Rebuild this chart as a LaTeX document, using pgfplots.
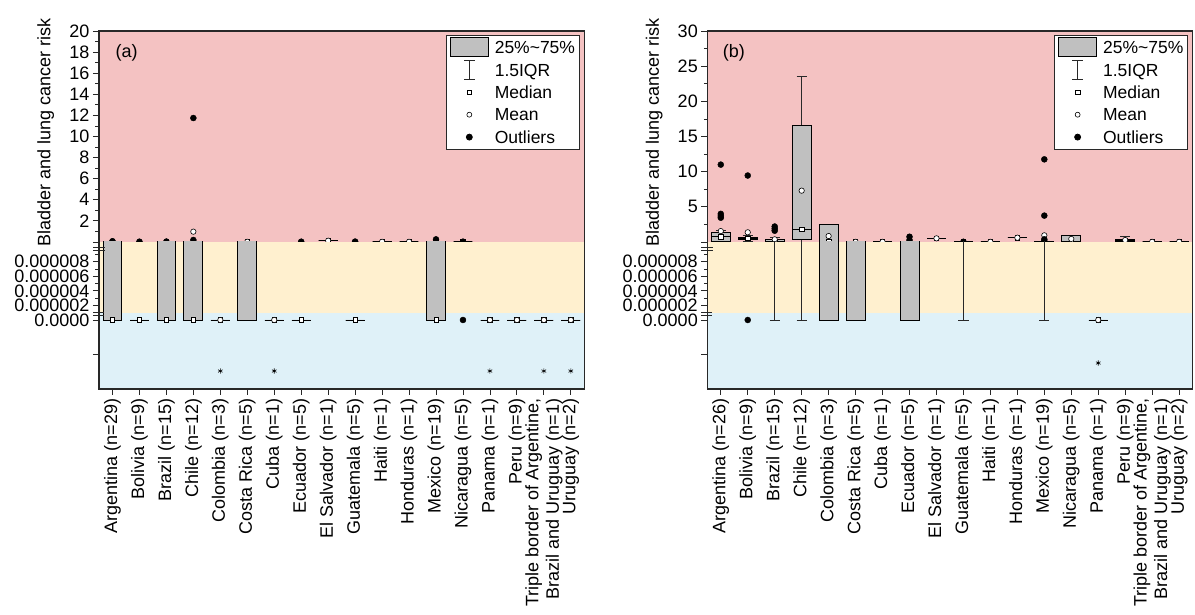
\documentclass[border=0pt]{standalone}
\usepackage{pgfplots}
\pgfplotsset{compat=1.18}
\usepackage{fontspec}
\setmainfont{Liberation Sans}

\definecolor{bandred}{RGB}{244,194,194}
\definecolor{bandyellow}{RGB}{255,240,207}
\definecolor{bandblue}{RGB}{223,241,248}
\definecolor{boxgray}{RGB}{192,192,192}
\definecolor{framegray}{RGB}{40,40,40}

\newcommand\lblfont{\fontsize{18}{20.5}\selectfont}

\pgfplotsset{
  boxst/.style={draw=black, line width=0.9pt, fill=boxgray, mark=none},
  medline/.style={draw=black, line width=0.9pt, mark=none},
  whisk/.style={draw=framegray, line width=0.9pt, mark=none},
}

% one box: position, lower whisker, Q1, median, Q3, upper whisker
\newcommand\bx[6]{%
  \pgfmathsetmacro\bxL{#1-0.35}\pgfmathsetmacro\bxR{#1+0.35}%
  \pgfmathsetmacro\cpL{#1-0.19}\pgfmathsetmacro\cpR{#1+0.19}%
  \addplot[whisk] coordinates {(#1,#2) (#1,#3)};
  \addplot[whisk] coordinates {(#1,#5) (#1,#6)};
  \addplot[whisk] coordinates {(\cpL,#2) (\cpR,#2)};
  \addplot[whisk] coordinates {(\cpL,#6) (\cpR,#6)};
  \addplot[boxst] coordinates {(\bxL,#3) (\bxR,#3) (\bxR,#5) (\bxL,#5)} -- cycle;
  \addplot[medline] coordinates {(\bxL,#4) (\bxR,#4)};
}

\pgfplotsset{
  panel/.style={
    scale only axis, width=485.3pt, xmin=0.5, xmax=18.5,
    axis line style={draw=none},
    tick align=outside, major tick length=6pt, minor tick length=3.5pt,
    tick style={framegray, line width=0.8pt},
    ytick pos=left,
    every tick label/.append style={font=\lblfont},
    every axis y label/.style={at={(rel axis cs:-0.085,0.52)}, rotate=90,
      anchor=south, font=\lblfont},
  },
  upper/.style={height=211pt, xtick=\empty,
    axis background/.style={fill=bandred},
    ylabel={Bladder and lung cancer risk},
    legend style={at={(rel axis cs:0.99,0.981)}, anchor=north east,
      draw=framegray, fill=white, line width=0.8pt,
      font=\fontsize{17.5}{20}\selectfont,
      inner xsep=3pt, inner ysep=2pt, row sep=2.6pt,
      cells={anchor=west}, nodes={inner sep=1pt},
      /tikz/every odd column/.append style={column sep=4.7pt}},
  },
  lower/.style={height=147pt, ymin=-9.465e-6, ymax=1.07e-5,
    restrict y to domain*=-2e-5:5e-5,
    scaled y ticks=false,
    axis background/.style={fill=bandblue},
    ytick={-4.66e-6,0,2e-6,4e-6,6e-6,8e-6},
    yticklabels={,0.0000,0.000002,0.000004,0.000006,0.000008},
    minor ytick={3e-6,5e-6,7e-6,9e-6},
    xtick={1,...,18}, xtick pos=bottom,
    xticklabel style={rotate=90, anchor=east, align=right},
  },
  medianmark/.style={only marks, mark=square*, mark size=2.2pt,
    mark options={fill=white, draw=black, line width=0.6pt}},
  meanmark/.style={only marks, mark=*, mark size=2.7pt,
    mark options={fill=white, draw=black, line width=0.6pt}},
  outliermark/.style={only marks, mark=*, mark size=3pt,
    mark options={fill=black, draw=black}},
  starmark/.style={only marks, mark=asterisk, mark size=2.6pt,
    mark options={black, line width=0.6pt}},
}

\newcommand\legendentries{%
  \addlegendimage{legend image code/.code={\path (0pt,-9.5pt) (38.6pt,9.5pt);
    \draw[draw=black, fill=boxgray, line width=0.9pt] (0pt,-9.5pt) rectangle (38.6pt,9.5pt);}}
  \addlegendentry{\strut 25\%\textasciitilde 75\%}
  \addlegendimage{legend image code/.code={\path (0pt,-9.5pt) (38.6pt,9.5pt);
    \draw[framegray, line width=0.9pt] (14pt,-9.5pt) -- (24.6pt,-9.5pt)
      (19.3pt,-9.5pt) -- (19.3pt,9.5pt) (14pt,9.5pt) -- (24.6pt,9.5pt);}}
  \addlegendentry{\strut 1.5IQR}
  \addlegendimage{legend image code/.code={\path (0pt,-9.5pt) (38.6pt,9.5pt);
    \draw[black, fill=white, line width=0.6pt] (17.1pt,-2.2pt) rectangle (21.5pt,2.2pt);}}
  \addlegendentry{\strut Median}
  \addlegendimage{legend image code/.code={\path (0pt,-9.5pt) (38.6pt,9.5pt);
    \draw[black, fill=white, line width=0.6pt] (19.3pt,0pt) circle (2.5pt);}}
  \addlegendentry{\strut Mean}
  \addlegendimage{legend image code/.code={\path (0pt,-9.5pt) (38.6pt,9.5pt);
    \fill[black] (19.3pt,0pt) circle (3pt);}}
  \addlegendentry{\strut Outliers}}

% ---------------- panel (a) boxes ----------------
\newcommand\boxesAspan{%
  \bx{1}{0}{0}{0}{0.03}{0.03}
  \bx{3}{0}{0}{0}{0.03}{0.03}
  \bx{4}{0}{0}{0}{0.03}{0.03}
  \bx{6}{0}{0}{0.02}{0.03}{0.03}
  \bx{13}{0}{0}{0}{0.03}{0.03}}
\newcommand\boxesAupper{%
  \bx{9}{0.12}{0.12}{0.12}{0.12}{0.12}
  \bx{11}{0.02}{0.02}{0.02}{0.02}{0.02}
  \bx{12}{0.02}{0.02}{0.02}{0.02}{0.02}
  \bx{14}{0.02}{0.02}{0.02}{0.02}{0.02}}
\newcommand\boxesAzero{%
  \bx{2}{0}{0}{0}{0}{0}
  \bx{5}{0}{0}{0}{0}{0}
  \bx{7}{0}{0}{0}{0}{0}
  \bx{8}{0}{0}{0}{0}{0}
  \bx{10}{0}{0}{0}{0}{0}
  \bx{15}{0}{0}{0}{0}{0}
  \bx{16}{0}{0}{0}{0}{0}
  \bx{17}{0}{0}{0}{0}{0}
  \bx{18}{0}{0}{0}{0}{0}}

% ---------------- panel (b) boxes ----------------
\newcommand\boxesBspan{%
  \bx{3}{0}{0.03}{0.06}{0.33}{0.6}
  \bx{4}{0}{0.38}{1.8}{16.5}{23.5}
  \bx{5}{0}{0}{0.03}{2.56}{2.56}
  \bx{6}{0}{0}{0.01}{0.02}{0.02}
  \bx{8}{0}{0}{0.02}{0.04}{0.04}
  \bx{10}{0}{0.02}{0.02}{0.02}{0.02}
  \bx{13}{0}{0.01}{0.03}{0.06}{0.1}}
\newcommand\boxesBupper{%
  \bx{1}{0.02}{0.14}{0.75}{1.32}{1.6}
  \bx{2}{0.14}{0.33}{0.53}{0.67}{1.0}
  \bx{7}{0.02}{0.02}{0.02}{0.02}{0.02}
  \bx{9}{0.52}{0.52}{0.52}{0.52}{0.52}
  \bx{11}{0.02}{0.02}{0.02}{0.02}{0.02}
  \bx{12}{0.61}{0.61}{0.61}{0.61}{0.61}
  \bx{14}{0.01}{0.01}{0.02}{0.9}{0.9}
  \bx{16}{0.01}{0.02}{0.18}{0.43}{0.75}
  \bx{17}{0.02}{0.02}{0.02}{0.02}{0.02}
  \bx{18}{0.02}{0.02}{0.02}{0.02}{0.02}}
\newcommand\boxesBzero{%
  \bx{15}{0}{0}{0}{0}{0}}

\newcommand\ticknamesA{Argentina (n=29),Bolivia (n=9),Brazil (n=15),Chile (n=12),
  Colombia (n=3),Costa Rica (n=5),Cuba (n=1),Ecuador (n=5),El Salvador (n=1),
  Guatemala (n=5),Haiti (n=1),Honduras (n=1),Mexico (n=19),Nicaragua (n=5),
  Panama (n=1),Peru (n=9),{Triple border of Argentine,\\Brazil and Uruguay (n=1)},Uruguay (n=2)}
\newcommand\ticknamesB{Argentina (n=26),Bolivia (n=9),Brazil (n=15),Chile (n=12),
  Colombia (n=3),Costa Rica (n=5),Cuba (n=1),Ecuador (n=5),El Salvador (n=1),
  Guatemala (n=5),Haiti (n=1),Honduras (n=1),Mexico (n=19),Nicaragua (n=5),
  Panama (n=1),Peru (n=9),{Triple border of Argentine,\\Brazil and Uruguay (n=1)},Uruguay (n=2)}

\begin{document}
\begin{tikzpicture}
\useasboundingbox (0,0) rectangle (1195pt,615pt);

% ===== (a) upper segment =====
\begin{axis}[panel, upper, at={(99pt,373pt)}, anchor=south west,
  ymin=0, ymax=20, ytick={0,2,...,20},
  yticklabels={,2,4,6,8,10,12,14,16,18,20}, minor ytick={1,3,...,19}]
  \legendentries
  \boxesAspan
  \boxesAupper
  \addplot[medianmark] coordinates {(6,0.02) (9,0.12) (11,0.02) (12,0.02) (14,0.02)};
  \addplot[meanmark] coordinates {(1,0.05) (2,0.004) (3,0.03) (4,0.98) (6,0.02) (8,0.01)
    (9,0.12) (10,0.02) (11,0.02) (12,0.02) (13,0.06) (14,0.02)};
  \addplot[outliermark] coordinates {(1,0.03) (1,0.07) (2,0.03) (3,0.04) (4,0.19) (4,11.75)
    (8,0.03) (10,0.04) (13,0.05) (13,0.25) (14,0.03)};
  \node[anchor=west, font=\lblfont] at (rel axis cs:0.027,0.896) {(a)};
\end{axis}

% ===== (a) lower segments =====
\begin{axis}[panel, lower, at={(99pt,226pt)}, anchor=south west,
  xticklabels/.expand once=\ticknamesA]
  \fill[bandyellow] (rel axis cs:0,0.517) rectangle (rel axis cs:1,1);
  \boxesAspan
  \boxesAzero
  \addplot[medianmark] coordinates {(1,0) (2,0) (3,0) (4,0) (5,0) (7,0) (8,0) (10,0)
    (13,0) (15,0) (16,0) (17,0) (18,0)};
  \addplot[meanmark] coordinates {(5,0) (7,0) (15,0) (16,0) (17,0) (18,0)};
  \addplot[outliermark] coordinates {(14,0)};
  \addplot[starmark] coordinates {(5,-7e-6) (7,-7e-6) (15,-7e-6) (17,-7e-6) (18,-7e-6)};
\end{axis}

% ===== (b) upper segment =====
\begin{axis}[panel, upper, at={(707.3pt,373pt)}, anchor=south west,
  ymin=0, ymax=30, ytick={0,5,...,30},
  yticklabels={,5,10,15,20,25,30}, minor ytick={2.5,7.5,...,27.5}]
  \legendentries
  \boxesBspan
  \boxesBupper
  \addplot[medianmark] coordinates {(1,0.75) (2,0.53) (3,0.06) (4,1.8) (5,0.03) (6,0.01)
    (7,0.02) (8,0.02) (9,0.52) (10,0.02) (11,0.02) (12,0.61) (13,0.03) (14,0.02)
    (16,0.18) (17,0.02) (18,0.02)};
  \addplot[meanmark] coordinates {(1,1.55) (2,1.38) (3,0.38) (4,7.3) (5,0.85) (6,0.02)
    (7,0.02) (8,0.1) (9,0.52) (10,0.02) (11,0.02) (12,0.61) (13,0.95) (14,0.43)
    (16,0.28) (17,0.02) (18,0.02)};
  \addplot[outliermark] coordinates {(1,11.0) (1,4.0) (1,3.7) (1,3.45) (2,9.45)
    (3,1.6) (3,1.9) (3,2.2) (8,0.28) (8,0.75) (10,0.03) (13,11.75) (13,3.75)
    (13,0.38) (13,0.12)};
  \node[anchor=west, font=\lblfont] at (rel axis cs:0.025,0.896) {(b)};
\end{axis}

% ===== (b) lower segments =====
\begin{axis}[panel, lower, at={(707.3pt,226pt)}, anchor=south west,
  xticklabels/.expand once=\ticknamesB]
  \fill[bandyellow] (rel axis cs:0,0.517) rectangle (rel axis cs:1,1);
  \boxesBspan
  \boxesBzero
  \addplot[medianmark] coordinates {(15,0)};
  \addplot[meanmark] coordinates {(15,0)};
  \addplot[outliermark] coordinates {(2,0)};
  \addplot[starmark] coordinates {(15,-5.9e-6)};
\end{axis}

% frames and axis breaks
\foreach \xl/\xr in {99/584.3, 707.3/1192.6}{
  \draw[framegray, line width=1.1pt] (\xl pt,226pt) rectangle (\xr pt,584pt);
  \draw[framegray, line width=0.8pt]
    (\xl pt-6pt,367.2pt) -- (\xl pt+6pt,367.2pt)
    (\xl pt-6pt,364.8pt) -- (\xl pt+6pt,364.8pt)
    (\xl pt-6pt,302.7pt) -- (\xl pt+5pt,302.7pt)
    (\xl pt-6pt,299.3pt) -- (\xl pt+5pt,299.3pt);
}
\end{tikzpicture}
\end{document}
